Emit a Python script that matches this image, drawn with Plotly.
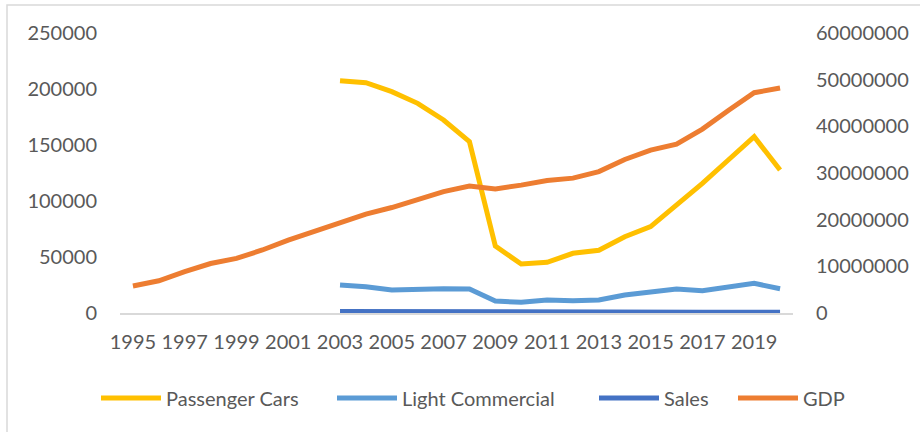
import plotly.graph_objects as go

# Yearly series
years = list(range(1995, 2021))
series_years = list(range(2003, 2021))

passenger_cars = [207400, 205600, 197600, 187200, 172300, 153000, 59800, 43700, 45300,
                  53300, 56000, 68100, 77100, 96400, 115800, 136600, 157400, 127700]
light_commercial = [25000, 23500, 20500, 21400, 21700, 21400, 10700, 9500, 11600,
                    11000, 11600, 16100, 18200, 21400, 19900, 23500, 26500, 21700]
sales = [1400, 1300, 1200, 1200, 1100, 900, 500, 400, 450,
         450, 450, 500, 550, 700, 700, 750, 900, 700]
gdp = [5790000, 6900000, 8850000, 10600000, 11700000, 13500000, 15600000, 17400000,
       19350000, 21200000, 22600000, 24400000, 26000000, 27200000, 26600000, 27400000,
       28400000, 28900000, 30300000, 32900000, 34900000, 36200000, 39400000, 43400000,
       47200000, 48200000]

left_ticks = [0, 50000, 100000, 150000, 200000, 250000]
right_ticks = [0, 10000000, 20000000, 30000000, 40000000, 50000000, 60000000]
x_ticks = list(range(1995, 2021, 2))

TEXT = "#595959"
FONT = "Lato"
LW = 5

W, H = 920, 432
ml, mr, mt, mb = 120, 127, 33, 119
pw, ph = W - ml - mr, H - mt - mb


def px_x(p):
    return (p - ml) / pw


def px_y(p):
    return (H - mb - p) / ph


fig = go.Figure()
fig.add_trace(go.Scatter(x=series_years, y=passenger_cars, name="Passenger Cars",
                         mode="lines", line=dict(color="#FFC000", width=LW), legend="legend"))
fig.add_trace(go.Scatter(x=series_years, y=light_commercial, name="Light Commercial",
                         mode="lines", line=dict(color="#5B9BD5", width=LW), legend="legend2"))
fig.add_trace(go.Scatter(x=series_years, y=sales, name="Sales",
                         mode="lines", line=dict(color="#4472C4", width=LW), legend="legend3"))
fig.add_trace(go.Scatter(x=years, y=gdp, name="GDP", yaxis="y2",
                         mode="lines", line=dict(color="#ED7D31", width=LW), legend="legend4"))


def legend_at(px_left):
    return dict(orientation="h", x=px_x(px_left), xanchor="left",
                y=px_y(398), yanchor="middle", itemwidth=60,
                font=dict(family=FONT, size=20, color=TEXT),
                bgcolor="rgba(0,0,0,0)")


fig.update_layout(
    width=W, height=H,
    margin=dict(l=ml, r=mr, t=mt, b=mb),
    paper_bgcolor="white", plot_bgcolor="white",
    font=dict(family=FONT, size=20, color=TEXT),
    showlegend=True,
    legend=legend_at(96),
    legend2=legend_at(332),
    legend3=legend_at(594),
    legend4=legend_at(733),
    xaxis=dict(range=[1994.5, 2020.5], tickvals=x_ticks, ticktext=[str(t) for t in x_ticks],
               showgrid=False, zeroline=False, showline=True, linecolor="#D9D9D9",
               linewidth=1.5, ticks="", ticklabelstandoff=10, layer="below traces",
               tickfont=dict(family=FONT, size=20, color=TEXT)),
    yaxis=dict(range=[0, 250000], tickvals=left_ticks, ticktext=[str(t) for t in left_ticks],
               showgrid=False, zeroline=False, showline=False, ticks="",
               ticklabelstandoff=22, tickfont=dict(family=FONT, size=20, color=TEXT)),
    yaxis2=dict(range=[0, 60000000], tickvals=right_ticks, ticktext=[str(t) for t in right_ticks],
                overlaying="y", side="right", showgrid=False, zeroline=False,
                showline=False, ticks="", ticklabelstandoff=22,
                tickfont=dict(family=FONT, size=20, color=TEXT)),
    shapes=[dict(type="rect", xref="paper", yref="paper",
                 x0=px_x(7), x1=px_x(930), y0=px_y(445), y1=px_y(5),
                 line=dict(color="#D9D9D9", width=1.5), layer="below")],
)

fig.write_html("out.html")
